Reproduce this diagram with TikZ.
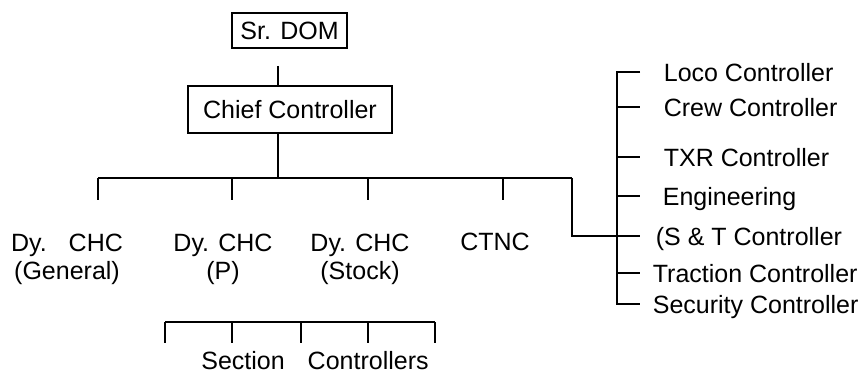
\documentclass[tikz,border=0pt]{standalone}
\usepackage{fontspec}
\setmainfont{Liberation Sans}
\usetikzlibrary{calc,positioning}

\begin{document}
\begin{tikzpicture}[
    x=1pt, y=-1pt,
    line width=1.7pt,
    every node/.style={font=\fontsize{25pt}{28pt}\selectfont, inner sep=0pt},
    post/.style={draw, line width=1.7pt, text height=18pt, text depth=0pt},
    unit/.style={align=center},
    staff/.style={anchor=west, text height=18pt, text depth=0pt}
  ]
    \useasboundingbox (0,0) rectangle (860,372);

    % top of the chart
    \node[post, minimum width=115pt, minimum height=35pt] (dom) at (289.5,30.5) {Sr. DOM};
    \node[post, minimum width=204pt, minimum height=47pt] (chief) at (290,109.5) {Chief Controller};
    \coordinate (spine) at (278,178);
    \draw[shorten <=17pt] (dom.south -| spine) -- (chief.north -| spine);
    \draw (chief.south -| spine) -- (spine);

    % deputies and CTNC
    \node[unit] (gen) at (67,259) {Dy.\hspace{22pt}CHC\\(General)};
    \node[unit] (pass) at (223,259) {Dy. CHC\\(P)};
    \node[unit] (stock) at (360,259) {Dy. CHC\\(Stock)};
    \node (ctnc) at (495,242) {CTNC};

    \coordinate (busL) at (98,178);
    \coordinate (busR) at (572,178);
    \coordinate (tGen) at (98,200);
    \coordinate (tPass) at (232,200);
    \coordinate (tStock) at (368,200);
    \coordinate (tCtnc) at (503,200);
    \draw (busL) -- (busR);
    \foreach \t in {tGen,tPass,tStock,tCtnc}
      \draw (\t |- spine) -- (\t);

    % controllers on the right
    \node[staff] (loco) at (663,72) {Loco Controller};
    \node[staff] (crew) at (663,107) {Crew Controller};
    \node[staff] (txr) at (663,157) {TXR Controller};
    \node[staff] (eng) at (662,196) {Engineering};
    \node[staff] (snt) at (655,236) {(S \& T Controller};
    \node[staff] (trac) at (652,273) {Traction Controller};
    \node[staff] (secu) at (652,304) {Security Controller};

    \coordinate (rail) at (617,0);
    \coordinate (tickEnd) at (640,0);
    \draw (tickEnd |- loco) -- (rail |- loco) -- (rail |- secu) -- (tickEnd |- secu);
    \foreach \n in {crew,txr,eng,snt,trac}
      \draw (rail |- \n) -- (tickEnd |- \n);
    \draw (busR) |- (rail |- snt);

    % section controllers
    \node[text height=18pt, text depth=0pt] (sect) at (315,360) {Section\hspace{23pt}Controllers};
    \coordinate (scBar) at (0,322);
    \foreach \n/\x in {1/165, 2/232, 3/301, 4/368, 5/435}
      \coordinate (sc\n) at (\x,343);
    \draw (sc1 |- scBar) -- (sc5 |- scBar);
    \foreach \i in {1,...,5}
      \draw (sc\i |- scBar) -- (sc\i);
  \end{tikzpicture}
\end{document}
